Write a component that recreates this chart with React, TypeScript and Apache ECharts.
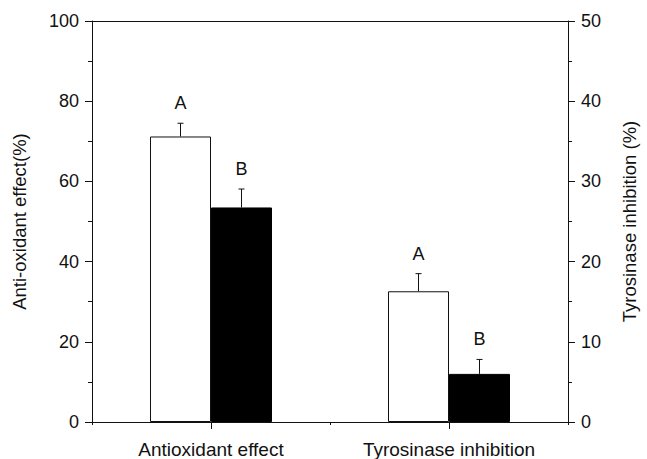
import React, { useEffect, useRef } from "react";
import * as echarts from "echarts";

const categories = ["Antioxidant effect", "Tyrosinase inhibition"];
// which y axis each category is read on: 0 = left (Anti-oxidant), 1 = right (Tyrosinase)
const axisForCategory = [0, 1];
const controlValues = [71.2, 16.3];
const controlErrors = [3.3, 2.2];
const controlLetters = ["A", "A"];
const treatedValues = [53.5, 6.0];
const treatedErrors = [4.6, 1.8];
const treatedLetters = ["B", "B"];

const leftAxis = { name: "Anti-oxidant effect(%)", min: 0, max: 100, interval: 20 };
const rightAxis = { name: "Tyrosinase inhibition (%)", min: 0, max: 50, interval: 10 };

const FONT = "Liberation Sans, Arial, sans-serif";
const INK = "#111";
const BAR_W = 61;

export default function App() {
  const ref = useRef<HTMLDivElement>(null);
  useEffect(() => {
    if (!ref.current) return;
    const chart = echarts.init(ref.current, null, { renderer: "svg" });

    const barSeries: any[] = [];
    const groups = [
      { key: "control", values: controlValues, style: { color: "#fff", borderColor: INK, borderWidth: 1 } },
      { key: "treated", values: treatedValues, style: { color: "#000", borderColor: "#000", borderWidth: 1 } },
    ];
    [0, 1].forEach((a) => {
      groups.forEach((g) => {
        barSeries.push({
          type: "bar",
          name: g.key + a,
          xAxisIndex: a,
          yAxisIndex: a,
          barWidth: BAR_W,
          barGap: "0%",
          data: categories.map((_, i) => (axisForCategory[i] === a ? g.values[i] : "-")),
          itemStyle: g.style,
          emphasis: { disabled: true },
          silent: true,
        });
      });
    });

    const errSeries: any[] = [0, 1].map((a) => {
      const items: { x: number; v: number; e: number; side: number; letter: string }[] = [];
      categories.forEach((_, i) => {
        if (axisForCategory[i] !== a) return;
        items.push({ x: i, v: controlValues[i], e: controlErrors[i], side: -1, letter: controlLetters[i] });
        items.push({ x: i, v: treatedValues[i], e: treatedErrors[i], side: 1, letter: treatedLetters[i] });
      });
      return {
        type: "custom",
        xAxisIndex: a,
        yAxisIndex: a,
        silent: true,
        z: 5,
        data: items.map((d) => [d.x, d.v, d.e, d.side]),
        renderItem: (params: any, api: any) => {
          const it = items[params.dataIndex];
          const base = api.coord([it.x, it.v]);
          const top = api.coord([it.x, it.v + it.e]);
          const cx = base[0] + (it.side * BAR_W) / 2;
          const st = { stroke: INK, lineWidth: 1 };
          return {
            type: "group",
            children: [
              { type: "line", shape: { x1: cx, y1: base[1], x2: cx, y2: top[1] }, style: st },
              { type: "line", shape: { x1: cx - 3, y1: top[1], x2: cx + 3, y2: top[1] }, style: st },
              {
                type: "text",
                x: cx,
                y: top[1] - 11,
                style: {
                  text: it.letter,
                  textAlign: "center",
                  textVerticalAlign: "bottom",
                  fontSize: 18,
                  fontFamily: FONT,
                  fill: INK,
                },
              },
            ],
          };
        },
      };
    });

    const yCommon = (ax: any, position: string, nameGap: number) => ({
      type: "value",
      position,
      min: ax.min,
      max: ax.max,
      interval: ax.interval,
      name: ax.name,
      nameLocation: "middle",
      nameGap,
      nameTextStyle: { fontSize: 18.5, fontFamily: FONT, color: INK },
      axisLine: { show: true, lineStyle: { color: INK, width: 1 } },
      axisTick: { show: true, inside: false, length: 7, lineStyle: { color: INK } },
      minorTick: { show: true, splitNumber: 2, length: 4, lineStyle: { color: INK } },
      axisLabel: { fontSize: 18, fontFamily: FONT, color: INK, margin: 13 },
      splitLine: { show: false },
    });

    chart.setOption({
      animation: false,
      backgroundColor: "#fff",
      grid: { left: 92, right: 74, top: 21, bottom: 36.5, containLabel: false },
      xAxis: [
        {
          type: "category",
          data: categories,
          position: "bottom",
          axisLine: { show: true, onZero: false, lineStyle: { color: INK, width: 1 } },
          axisTick: { show: true, alignWithLabel: true, length: 7, lineStyle: { color: INK } },
          axisLabel: { fontSize: 19, fontFamily: FONT, color: INK, margin: 18 },
        },
        {
          type: "category",
          data: categories,
          position: "top",
          axisLine: { show: true, onZero: false, lineStyle: { color: INK, width: 1 } },
          axisTick: { show: false },
          axisLabel: { show: false },
        },
        {
          type: "value",
          position: "bottom",
          min: 0,
          max: 2,
          interval: 1,
          axisLine: { show: false },
          axisTick: { show: true, length: 3, lineStyle: { color: INK } },
          axisLabel: { show: false },
          splitLine: { show: false },
        },
      ],
      yAxis: [yCommon(leftAxis, "left", 63), yCommon(rightAxis, "right", 52)],
      series: [...barSeries, ...errSeries],
    });

    return () => chart.dispose();
  }, []);

  return (
    <div
      ref={ref}
      style={{ position: "fixed", left: 0, top: 0, width: 647, height: 459, background: "#fff" }}
    />
  );
}
